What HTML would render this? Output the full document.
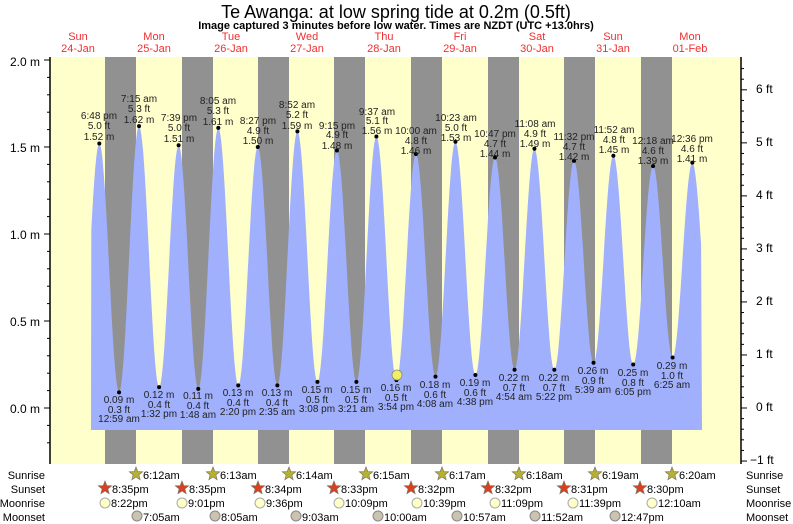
<!DOCTYPE html>
<html><head><meta charset="utf-8"><style>
body{margin:0;background:#fff;}
svg{display:block;font-family:"Liberation Sans",sans-serif;}
.s{font-size:10px;fill:#222;text-anchor:middle}
.ax{font-size:12px;fill:#000}
.d{font-size:11px;fill:#f03030;text-anchor:middle}
.b{font-size:11px;fill:#000}
</style></head><body>
<svg id="c" width="793" height="524" xmlns="http://www.w3.org/2000/svg">
<text x="396" y="18" font-size="18" text-anchor="middle" fill="#000">Te Awanga: at low  spring tide at 0.2m (0.5ft)</text>
<text x="396" y="29" font-size="11" font-weight="bold" text-anchor="middle" fill="#000">Image captured 3 minutes before low water. Times are NZDT (UTC +13.0hrs)</text>
<g class="d">
<text x="78" y="40">Sun</text><text x="78" y="52">24-Jan</text>
<text x="154" y="40">Mon</text><text x="154" y="52">25-Jan</text>
<text x="231" y="40">Tue</text><text x="231" y="52">26-Jan</text>
<text x="307" y="40">Wed</text><text x="307" y="52">27-Jan</text>
<text x="384" y="40">Thu</text><text x="384" y="52">28-Jan</text>
<text x="460" y="40">Fri</text><text x="460" y="52">29-Jan</text>
<text x="537" y="40">Sat</text><text x="537" y="52">30-Jan</text>
<text x="613" y="40">Sun</text><text x="613" y="52">31-Jan</text>
<text x="690" y="40">Mon</text><text x="690" y="52">01-Feb</text>
</g>
<rect x="50" y="57" width="691" height="407" fill="#ffffcc"/>
<g fill="#919191">
<rect x="105" y="57" width="31" height="407"/><rect x="182" y="57" width="31" height="407"/>
<rect x="258" y="57" width="31" height="407"/><rect x="334" y="57" width="31" height="407"/>
<rect x="411" y="57" width="31" height="407"/><rect x="488" y="57" width="31" height="407"/>
<rect x="564" y="57" width="31" height="407"/><rect x="641" y="57" width="31" height="407"/>
</g>
<path id="tide" fill="#a0b0fd" d=""/>
<g id="dots" fill="#000"></g>
<line x1="50" y1="57" x2="50" y2="464" stroke="#000" stroke-width="1.5"/>
<line x1="741" y1="57" x2="741" y2="464" stroke="#000" stroke-width="1.5"/>
<g id="ticks" stroke="#000"></g>
<g class="ax" text-anchor="end">
<text x="40" y="66">2.0 m</text><text x="40" y="152">1.5 m</text><text x="40" y="239">1.0 m</text>
<text x="40" y="326">0.5 m</text><text x="40" y="413">0.0 m</text>
</g>
<g class="ax">
<text x="756" y="93">6 ft</text><text x="756" y="146">5 ft</text><text x="756" y="199">4 ft</text>
<text x="756" y="252">3 ft</text><text x="756" y="305">2 ft</text><text x="756" y="358">1 ft</text>
<text x="756" y="411">0 ft</text><text x="750" y="464">−1 ft</text>
</g>
<circle cx="397" cy="375" r="5" fill="#f0f060" stroke="#888" stroke-width="0.8"/>
<g id="labels" class="s">
<text x="99" y="119">6:48 pm</text><text x="99" y="129">5.0 ft</text><text x="99" y="140">1.52 m</text>
<text x="139" y="102">7:15 am</text><text x="139" y="112">5.3 ft</text><text x="139" y="123">1.62 m</text>
<text x="179" y="121">7:39 pm</text><text x="179" y="131">5.0 ft</text><text x="179" y="142">1.51 m</text>
<text x="218" y="104">8:05 am</text><text x="218" y="114">5.3 ft</text><text x="218" y="125">1.61 m</text>
<text x="258" y="124">8:27 pm</text><text x="258" y="134">4.9 ft</text><text x="258" y="144">1.50 m</text>
<text x="297" y="108">8:52 am</text><text x="297" y="118">5.2 ft</text><text x="297" y="129">1.59 m</text>
<text x="337" y="129">9:15 pm</text><text x="337" y="138">4.9 ft</text><text x="337" y="149">1.48 m</text>
<text x="377" y="115">9:37 am</text><text x="377" y="124">5.1 ft</text><text x="377" y="134">1.56 m</text>
<text x="416" y="134">10:00 am</text><text x="416" y="144">4.8 ft</text><text x="416" y="154">1.46 m</text>
<text x="456" y="121">10:23 am</text><text x="456" y="131">5.0 ft</text><text x="456" y="141">1.53 m</text>
<text x="495" y="137">10:47 pm</text><text x="495" y="147">4.7 ft</text><text x="495" y="157">1.44 m</text>
<text x="535" y="127">11:08 am</text><text x="535" y="137">4.9 ft</text><text x="535" y="147">1.49 m</text>
<text x="574" y="140">11:32 pm</text><text x="574" y="150">4.7 ft</text><text x="574" y="160">1.42 m</text>
<text x="614" y="133">11:52 am</text><text x="614" y="143">4.8 ft</text><text x="614" y="153">1.45 m</text>
<text x="653" y="144">12:18 am</text><text x="653" y="154">4.6 ft</text><text x="653" y="164">1.39 m</text>
<text x="692" y="142">12:36 pm</text><text x="692" y="152">4.6 ft</text><text x="692" y="162">1.41 m</text>
<text x="119" y="403">0.09 m</text><text x="119" y="413">0.3 ft</text><text x="119" y="422">12:59 am</text>
<text x="159" y="398">0.12 m</text><text x="159" y="408">0.4 ft</text><text x="159" y="417">1:32 pm</text>
<text x="198" y="399">0.11 m</text><text x="198" y="409">0.4 ft</text><text x="198" y="418">1:48 am</text>
<text x="238" y="396">0.13 m</text><text x="238" y="406">0.4 ft</text><text x="238" y="415">2:20 pm</text>
<text x="277" y="396">0.13 m</text><text x="277" y="406">0.4 ft</text><text x="277" y="415">2:35 am</text>
<text x="317" y="393">0.15 m</text><text x="317" y="403">0.5 ft</text><text x="317" y="412">3:08 pm</text>
<text x="356" y="393">0.15 m</text><text x="356" y="403">0.5 ft</text><text x="356" y="412">3:21 am</text>
<text x="396" y="391">0.16 m</text><text x="396" y="401">0.5 ft</text><text x="396" y="410">3:54 pm</text>
<text x="435" y="388">0.18 m</text><text x="435" y="398">0.6 ft</text><text x="435" y="407">4:08 am</text>
<text x="475" y="386">0.19 m</text><text x="475" y="396">0.6 ft</text><text x="475" y="405">4:38 pm</text>
<text x="514" y="381">0.22 m</text><text x="514" y="391">0.7 ft</text><text x="514" y="400">4:54 am</text>
<text x="554" y="381">0.22 m</text><text x="554" y="391">0.7 ft</text><text x="554" y="400">5:22 pm</text>
<text x="593" y="374">0.26 m</text><text x="593" y="384">0.9 ft</text><text x="593" y="393">5:39 am</text>
<text x="633" y="376">0.25 m</text><text x="633" y="386">0.8 ft</text><text x="633" y="395">6:05 pm</text>
<text x="672" y="369">0.29 m</text><text x="672" y="379">1.0 ft</text><text x="672" y="388">6:25 am</text>
</g>
<g class="b" text-anchor="end">
<text x="45" y="479">Sunrise</text><text x="45" y="493">Sunset</text><text x="45" y="507">Moonrise</text><text x="45" y="521">Moonset</text>
</g>
<g class="b">
<text x="746" y="479">Sunrise</text><text x="746" y="493">Sunset</text><text x="746" y="507">Moonrise</text><text x="746" y="521">Moonset</text>
</g>
<g id="icons"></g>
<g class="b">
<text x="143" y="479">6:12am</text><text x="220" y="479">6:13am</text><text x="296" y="479">6:14am</text><text x="373" y="479">6:15am</text>
<text x="449" y="479">6:17am</text><text x="526" y="479">6:18am</text><text x="602" y="479">6:19am</text><text x="679" y="479">6:20am</text>
<text x="112" y="493">8:35pm</text><text x="189" y="493">8:35pm</text><text x="265" y="493">8:34pm</text><text x="341" y="493">8:33pm</text>
<text x="418" y="493">8:32pm</text><text x="495" y="493">8:32pm</text><text x="571" y="493">8:31pm</text><text x="647" y="493">8:30pm</text>
<text x="111" y="507">8:22pm</text><text x="188" y="507">9:01pm</text><text x="266" y="507">9:36pm</text><text x="345" y="507">10:09pm</text>
<text x="423" y="507">10:39pm</text><text x="501" y="507">11:09pm</text><text x="579" y="507">11:39pm</text><text x="658" y="507">12:10am</text>
<text x="143" y="521">7:05am</text><text x="221" y="521">8:05am</text><text x="302" y="521">9:03am</text><text x="384" y="521">10:00am</text>
<text x="463" y="521">10:57am</text><text x="541" y="521">11:52am</text><text x="621" y="521">12:47pm</text>
</g>
</svg>
<script>
var X=t=>39.3+76.6*t, Y=h=>408-174*h;
var E=[[0.523,0.09],[0.7833,1.52],[1.041,0.09],[1.3021,1.62],[1.5639,0.12],[1.8188,1.51],[2.075,0.11],[2.3368,1.61],[2.5972,0.13],[2.8521,1.50],[3.1076,0.13],[3.3694,1.59],[3.6306,0.15],[3.8854,1.48],[4.1396,0.15],[4.4007,1.56],[4.6625,0.16],[4.9167,1.46],[5.1722,0.18],[5.4326,1.53],[5.6931,0.19],[5.9493,1.44],[6.2042,0.22],[6.4639,1.49],[6.7236,0.22],[6.9806,1.42],[7.2354,0.26],[7.4944,1.45],[7.7535,0.25],[8.0125,1.39],[8.2674,0.29],[8.525,1.41],[8.78,0.29]];
var t0=(91-39.3)/76.6,t1=(702-39.3)/76.6,pts=[];
for(var i=0;i<E.length-1;i++){var a=E[i],b=E[i+1];for(var k=0;k<=20;k++){var t=a[0]+(b[0]-a[0])*k/20;if(t<t0||t>t1)continue;var h=a[1]+(b[1]-a[1])*(1-Math.cos(Math.PI*k/20))/2;pts.push(X(t).toFixed(1)+','+Y(h).toFixed(1));}}
document.getElementById('tide').setAttribute('d','M91,430L'+pts.join('L')+'L702,430Z');
var dh='';for(var i=1;i<E.length-1;i++)dh+='<circle cx="'+X(E[i][0])+'" cy="'+Y(E[i][1])+'" r="2"/>';
document.getElementById('dots').innerHTML=dh;
var tk='';for(var v=-0.2;v<=2.001;v+=0.1){var y=Y(v),m=Math.abs(v*10%5)<0.01||Math.abs(Math.abs(v*10%5)-5)<0.01;tk+='<line x1="'+(m?44:47)+'" y1="'+y+'" x2="50" y2="'+y+'"/>';}
for(var f=-1;f<=6.5;f+=0.2){var y=408-53.03*f,m=Math.abs(f-Math.round(f))<0.01;tk+='<line x1="741" y1="'+y+'" x2="'+(m?747:744)+'" y2="'+y+'"/>';}
document.getElementById('ticks').innerHTML=tk;
function star(cx,cy,fill){var p=[];for(var i=0;i<10;i++){var r=i%2?3:7,a=-Math.PI/2+i*Math.PI/5;p.push((cx+r*Math.cos(a)).toFixed(1)+','+(cy+r*Math.sin(a)).toFixed(1));}return '<polygon points="'+p.join(' ')+'" fill="'+fill+'" stroke="#776" stroke-width="0.7"/>';}
var ic='';
[136,213,289,366,442,519,595,672].forEach(x=>ic+=star(x,474,'#b8b030'));
[105,182,258,334,411,488,564,640].forEach(x=>ic+=star(x,488,'#d84020'));
[105,182,260,339,417,495,573,652].forEach(x=>ic+='<circle cx="'+x+'" cy="503" r="5" fill="#ffffc8" stroke="#aaa"/>');
[137,215,296,378,457,535,615].forEach(x=>ic+='<circle cx="'+x+'" cy="516" r="5" fill="#c8c4b0" stroke="#888"/>');
document.getElementById('icons').innerHTML=ic;
</script>
</body></html>
